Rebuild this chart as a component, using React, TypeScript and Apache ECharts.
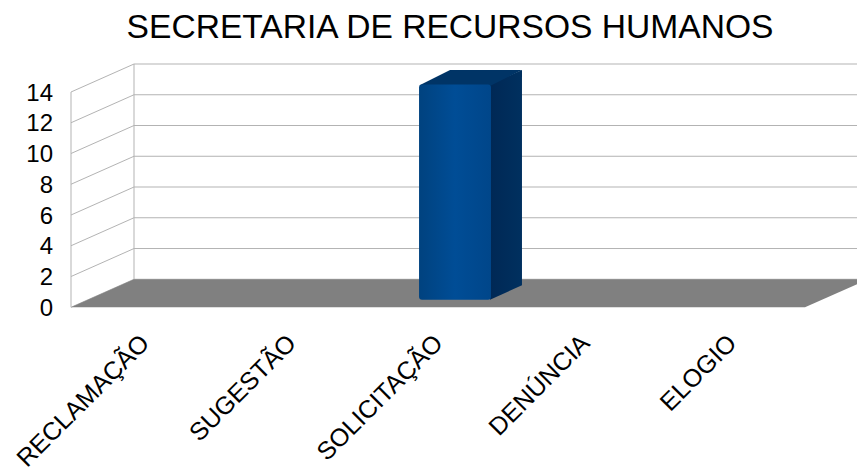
import React, { useEffect, useRef } from "react";
import * as echarts from "echarts";

const TITLE = "SECRETARIA DE RECURSOS HUMANOS";
const categories = ["RECLAMAÇÃO", "SUGESTÃO", "SOLICITAÇÃO", "DENÚNCIA", "ELOGIO"];
const values = [0, 0, 14, 0, 0];
const yTicks = [0, 2, 4, 6, 8, 10, 12, 14];

const FONT = "Liberation Sans";
const DX = 63; // wall depth (px)
const DY = 28;
const GRID_COLOR = "#b3b3b3";
const FLOOR_COLOR = "#808080";

function renderWalls(params: any, api: any) {
  const cs = params.coordSys;
  const x0 = cs.x;
  const x1 = cs.x + cs.width;
  const yb = api.coord([0, 0])[1];
  const yt = api.coord([0, yTicks[yTicks.length - 1]])[1];
  const children: any[] = [];
  const ls = { stroke: GRID_COLOR, lineWidth: 1, fill: null };
  yTicks.forEach((v) => {
    const y = api.coord([0, v])[1];
    children.push({ type: "line", shape: { x1: x0, y1: y, x2: x0 + DX, y2: y - DY }, style: ls });
    children.push({ type: "line", shape: { x1: x0 + DX, y1: y - DY, x2: x1 + DX + 20, y2: y - DY }, style: ls });
  });
  children.push({ type: "line", shape: { x1: x0, y1: yb, x2: x0, y2: yt }, style: ls });
  children.push({ type: "line", shape: { x1: x0 + DX, y1: yb - DY, x2: x0 + DX, y2: yt - DY }, style: ls });
  children.push({
    type: "polygon",
    shape: { points: [[x0, yb], [x0 + DX, yb - DY], [x1 + DX, yb - DY], [x1, yb]] },
    style: { fill: FLOOR_COLOR },
  });
  return { type: "group", children };
}

function renderBar(params: any, api: any) {
  const idx = api.value(0);
  const v = api.value(1);
  if (!v) return null;
  const band = api.size([1, 0])[0];
  const w = band * 0.49;
  const top = api.coord([idx, v]);
  const bot = api.coord([idx, 0]);
  const f1 = 0.27;
  const bdx = 31;
  const bdy = 14.5;
  const xL = top[0] + f1 * DX - w / 2;
  const xR = xL + w;
  const yT = top[1] - f1 * DY;
  const yB = bot[1] - f1 * DY;
  return {
    type: "group",
    children: [
      {
        type: "polygon",
        shape: { points: [[xR - 1, yT], [xR + bdx, yT - bdy], [xR + bdx, yB - bdy], [xR - 1, yB]] },
        style: {
          fill: new echarts.graphic.LinearGradient(0, 0, 1, 0, [
            { offset: 0, color: "#002855" },
            { offset: 1, color: "#00305f" },
          ]),
        },
      },
      {
        type: "polygon",
        shape: { points: [[xL, yT + 1], [xL + bdx, yT - bdy], [xR + bdx, yT - bdy], [xR, yT + 1]] },
        style: { fill: "#003466" },
      },
      {
        type: "rect",
        shape: { x: xL, y: yT, width: w, height: yB - yT, r: 3 },
        style: {
          fill: new echarts.graphic.LinearGradient(0, 0, 1, 0, [
            { offset: 0, color: "#00427f" },
            { offset: 0.5, color: "#004d96" },
            { offset: 1, color: "#00468a" },
          ]),
        },
      },
    ],
  };
}

export default function App() {
  const ref = useRef<HTMLDivElement>(null);
  useEffect(() => {
    const chart = echarts.init(ref.current!, null, { renderer: "svg" });
    chart.setOption({
      animation: false,
      title: {
        text: TITLE,
        left: 445,
        top: 4,
        textAlign: "center",
        textStyle: { fontFamily: FONT, fontSize: 33.6, fontWeight: "normal", color: "#000" },
      },
      grid: { left: 71, right: 52, top: 92, bottom: 165 },
      xAxis: {
        type: "category",
        data: categories,
        axisLine: { show: false },
        axisTick: { show: false },
        splitLine: { show: false },
        axisLabel: { interval: 0, rotate: 45, margin: 31, fontSize: 25, fontFamily: FONT, color: "#000" },
      },
      yAxis: {
        type: "value",
        min: 0,
        max: 14,
        interval: 2,
        axisLine: { show: false },
        axisTick: { show: false },
        splitLine: { show: false },
        axisLabel: { margin: 18, fontSize: 24, fontFamily: FONT, color: "#000" },
      },
      series: [
        { type: "custom", z: 1, silent: true, data: [[0, 0]], renderItem: renderWalls, encode: { x: 0, y: 1 } },
        { type: "custom", z: 2, data: values.map((v, i) => [i, v]), renderItem: renderBar, encode: { x: 0, y: 1 } },
      ],
    });
    return () => chart.dispose();
  }, []);
  return <div ref={ref} style={{ position: "absolute", left: 0, top: 0, width: 857, height: 473 }} />;
}
